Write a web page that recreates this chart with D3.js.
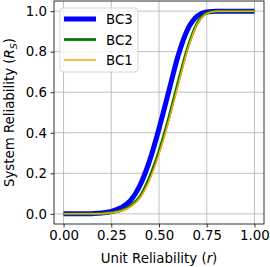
<!DOCTYPE html>
<html>
<head>
<meta charset="utf-8">
<script src="https://cdn.jsdelivr.net/npm/d3@7"></script>
<style>
  body { margin: 0; background: #fff; }
  svg { display: block; font-family: "DejaVu Sans", sans-serif; }
</style>
</head>
<body>
<div id="chart"></div>
<script>
// values
var rValues = [0, 0.05, 0.1, 0.15, 0.2, 0.25, 0.3, 0.35, 0.4, 0.45, 0.5,
               0.55, 0.6, 0.65, 0.7, 0.75, 0.8, 0.85, 0.9, 0.95, 1];
var bc3 = [0, 0, 0, 0.001, 0.004, 0.012, 0.03, 0.065, 0.14, 0.26, 0.42,
           0.6, 0.78, 0.91, 0.975, 0.996, 1, 1, 1, 1, 1];
var bc2 = [0, 0, 0, 0, 0.002, 0.006, 0.016, 0.04, 0.085, 0.18, 0.31,
           0.47, 0.65, 0.82, 0.94, 0.99, 0.999, 1, 1, 1, 1];
var bc1 = [0, 0, 0, 0, 0.001, 0.005, 0.014, 0.035, 0.078, 0.165, 0.295,
           0.455, 0.635, 0.81, 0.935, 0.988, 0.999, 1, 1, 1, 1];
var seriesNames = ["BC3", "BC2", "BC1"];
var xTicks = [0, 0.25, 0.5, 0.75, 1];
var yTicks = [0, 0.2, 0.4, 0.6, 0.8, 1];

var W = 270, H = 267;
var plotLeft = 54, plotRight = 264, plotTop = 1, plotBottom = 224;

var svg = d3.select("#chart").append("svg")
  .attr("width", W).attr("height", H);

var x = d3.scaleLinear().domain([-0.05, 1.05]).range([plotLeft, plotRight]);
var y = d3.scaleLinear().domain([-0.05, 1.05]).range([plotBottom, plotTop]);

// grid
var grid = svg.append("g");
grid.selectAll(".gx").data(xTicks).enter().append("line")
  .attr("x1", function(d) { return x(d); }).attr("x2", function(d) { return x(d); })
  .attr("y1", plotTop).attr("y2", plotBottom)
  .attr("stroke", "#b0b0b0").attr("stroke-width", 0.8);
grid.selectAll(".gy").data(yTicks).enter().append("line")
  .attr("y1", function(d) { return y(d); }).attr("y2", function(d) { return y(d); })
  .attr("x1", plotLeft).attr("x2", plotRight)
  .attr("stroke", "#b0b0b0").attr("stroke-width", 0.8);

// lines
var styles = {
  BC3: { color: "#0000ff", width: 5 },
  BC2: { color: "#008000", width: 2.8 },
  BC1: { color: "#ffa500", width: 1.5 }
};
var seriesData = { BC3: bc3, BC2: bc2, BC1: bc1 };

var line = d3.line()
  .x(function(d) { return x(d[0]); })
  .y(function(d) { return y(d[1]); })
  .curve(d3.curveMonotoneX);

seriesNames.forEach(function(name) {
  var pts = rValues.map(function(r, i) { return [r, seriesData[name][i]]; });
  svg.append("path")
    .datum(pts)
    .attr("d", line)
    .attr("fill", "none")
    .attr("stroke", styles[name].color)
    .attr("stroke-width", styles[name].width)
    .attr("stroke-linejoin", "round");
});

// axes
var xAxis = d3.axisBottom(x).tickValues(xTicks)
  .tickFormat(d3.format(".2f")).tickSize(3.5).tickPadding(3.5);
var yAxis = d3.axisLeft(y).tickValues(yTicks)
  .tickFormat(d3.format(".1f")).tickSize(3.5).tickPadding(3.5);

var gx = svg.append("g").attr("transform", "translate(0," + plotBottom + ")").call(xAxis);
var gy = svg.append("g").attr("transform", "translate(" + plotLeft + ",0)").call(yAxis);
[gx, gy].forEach(function(g) {
  g.select(".domain").remove();
  g.selectAll("line").attr("stroke", "#000").attr("stroke-width", 0.8);
  g.selectAll("text").attr("fill", "#000")
    .style("font-size", "13.33px").style("font-family", "DejaVu Sans, sans-serif");
});

// spines
svg.append("rect")
  .attr("x", plotLeft).attr("y", plotTop)
  .attr("width", plotRight - plotLeft).attr("height", plotBottom - plotTop)
  .attr("fill", "none").attr("stroke", "#000").attr("stroke-width", 0.8);

// axis labels
var xl = svg.append("text")
  .attr("x", (plotLeft + plotRight) / 2).attr("y", 263)
  .attr("text-anchor", "middle").style("font-size", "13.33px");
xl.append("tspan").text("Unit Reliability (");
xl.append("tspan").style("font-style", "italic").text("r");
xl.append("tspan").text(")");

var yl = svg.append("text")
  .attr("transform", "translate(14," + ((plotTop + plotBottom) / 2) + ") rotate(-90)")
  .attr("text-anchor", "middle").style("font-size", "13.33px");
yl.append("tspan").text("System Reliability (");
yl.append("tspan").style("font-style", "italic").text("R");
yl.append("tspan").style("font-style", "italic").style("font-size", "9.5px")
  .attr("dy", 3).text("S");
yl.append("tspan").attr("dy", -3).text(")");

// legend
var leg = svg.append("g").attr("transform", "translate(60,8)");
leg.append("rect")
  .attr("width", 78).attr("height", 64).attr("rx", 3)
  .attr("fill", "#fff").attr("fill-opacity", 0.8)
  .attr("stroke", "#cccccc").attr("stroke-width", 0.8);
seriesNames.forEach(function(name, i) {
  var yy = 11 + i * 20.5;
  leg.append("line")
    .attr("x1", 4).attr("x2", 36).attr("y1", yy).attr("y2", yy)
    .attr("stroke", styles[name].color).attr("stroke-width", styles[name].width);
  leg.append("text")
    .attr("x", 46).attr("y", yy + 5)
    .style("font-size", "13.33px").text(name);
});
</script>
</body>
</html>
